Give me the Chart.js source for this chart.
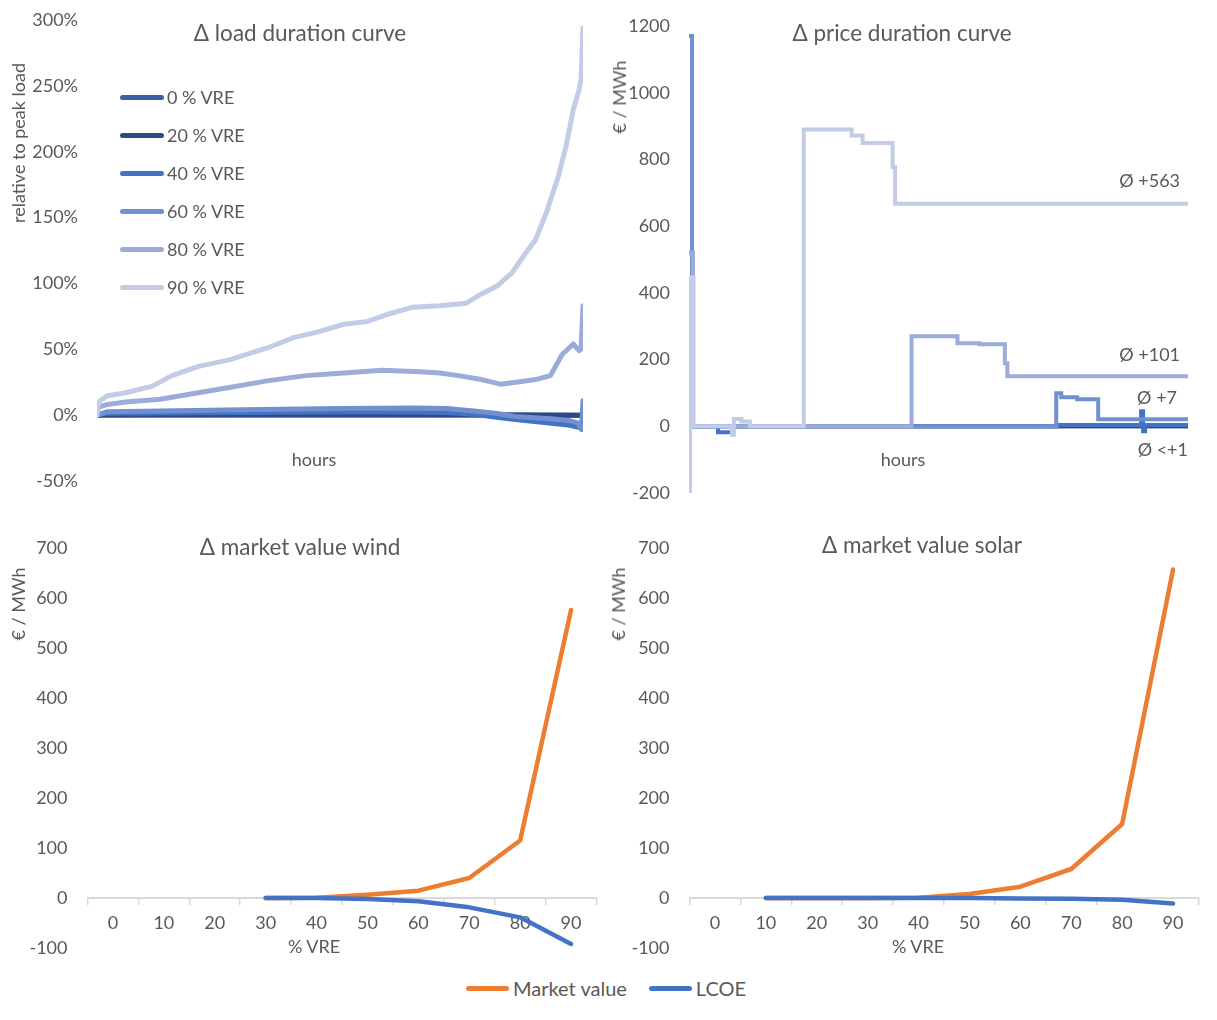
<!DOCTYPE html>
<html lang="en">
<head>
    <meta charset="UTF-8">
    <title>Δ duration curves and market values</title>
    <script src="https://cdn.jsdelivr.net/npm/chart.js"></script>
    <style>
        body { margin: 0; background: #fff; font-family: Lato, sans-serif; color: #595959; }
        #page { position: relative; width: 1217px; height: 1020px; }
        canvas { position: absolute; }
        .txt { position: absolute; white-space: nowrap; transform: translate(-50%, -50%); font-size: 18px; }
        .title { font-size: 22.5px; }
        .vert { transform: translate(-50%, -50%) rotate(-90deg); }
        .legend { position: absolute; font-size: 18px; }
        .legend .row { display: flex; align-items: center; height: 38px; }
        .legend .sw { width: 44px; height: 5px; border-radius: 3px; margin-right: 3px; }
        #mvLegend { position: absolute; left: 466px; top: 975px; display: flex; align-items: center; font-size: 20px; height: 26px; }
        #mvLegend .sw { width: 43px; height: 5px; border-radius: 3px; margin-right: 4px; }
        #mvLegend .item { display: flex; align-items: center; margin-right: 22px; }
    </style>
</head>
<body>
<div id="page">
    <canvas id="ldc" width="600" height="500" style="left:0;top:0"></canvas>
    <canvas id="pdc" width="617" height="510" style="left:600px;top:0"></canvas>
    <canvas id="wind" width="610" height="440" style="left:0;top:520px"></canvas>
    <canvas id="solar" width="617" height="440" style="left:600px;top:520px"></canvas>

    <div class="txt title" style="left:300px;top:32px">Δ load duration curve</div>
    <div class="txt title" style="left:902px;top:32px">Δ price duration curve</div>
    <div class="txt title" style="left:300px;top:546px">Δ market value wind</div>
    <div class="txt title" style="left:922px;top:544px">Δ market value solar</div>

    <div class="txt vert" style="left:18px;top:143px">relative to peak load</div>
    <div class="txt vert" style="left:619px;top:97px">€ / MWh</div>
    <div class="txt vert" style="left:18px;top:604px">€ / MWh</div>
    <div class="txt vert" style="left:618px;top:604px">€ / MWh</div>

    <div class="txt" style="left:314px;top:459px">hours</div>
    <div class="txt" style="left:903px;top:459px">hours</div>
    <div class="txt" style="left:314px;top:946px">% VRE</div>
    <div class="txt" style="left:918px;top:946px">% VRE</div>

    <div class="legend" id="ldcLegend" style="left:120px;top:78px"></div>
    <div id="mvLegend"></div>
</div>

<script>
    // scenarios (share of variable renewables)
    const vreNames = ['0 % VRE', '20 % VRE', '40 % VRE', '60 % VRE', '80 % VRE', '90 % VRE'];

    // Δ load duration curve, x = share of hours (%), y = % of peak load
    const ldc0X = [0, 100];
    const ldc0Y = [0, 0];
    const ldc20X = [0, 2, 40, 75, 90, 100];
    const ldc20Y = [0, 0.3, 0.6, 0.5, 0.2, 0];
    const ldc40X = [0, 2, 30, 55, 72, 78, 83, 88, 93, 97, 100];
    const ldc40Y = [0, 1.5, 2, 2.5, 2, 0.5, -2, -4, -6, -7.5, -10];
    const ldc60X = [0, 2, 10, 30, 50, 65, 72, 78, 82, 86, 90, 94, 97, 99, 99.7, 100];
    const ldc60Y = [0, 2.5, 3, 4, 5, 5.5, 5, 3, 1.5, -1, -2, -3, -4, -6, -11, 11];
    const ldc80X = [0, 0.3, 2, 5.9, 13, 19.3, 27.2, 35, 42.9, 50.8, 58.7, 66.5, 70.5, 74.4, 79.1, 83, 86.2, 90.2, 93.3, 95.7, 98, 99.2, 99.6, 100];
    const ldc80Y = [0, 6, 8, 10, 12, 16, 21, 26, 30, 32, 34, 33, 32, 30, 27, 23.5, 25, 27, 30, 46, 54, 49, 50, 83];
    const ldc90X = [0, 0.3, 2, 5.9, 11.4, 15.4, 20.9, 27.2, 35, 40.6, 45.3, 50.8, 55.5, 60.2, 65, 70.5, 76, 79.1, 82.3, 85.4, 87.8, 90.2, 92.5, 94.9, 96.5, 98, 99.2, 99.6, 100];
    const ldc90Y = [0, 10, 14.6, 17, 22, 30, 37, 42, 51, 59, 63, 69, 71, 77, 82, 83, 85, 92, 98, 108, 121, 133, 154, 181, 204, 232, 247, 255, 294];

    // Δ price duration curve (steps), x = share of hours (%), y = €/MWh
    const pdc0X = [0, 100];
    const pdc0Y = [0, 0];
    const pdc20X = [0, 100];
    const pdc20Y = [0, 0];
    const pdc40X = [0, 5.8, 8.8, 73.8, 90.6, 91.0, 91.4, 100];
    const pdc40Y = [0, -18, 0, 4, 45, -15, 4, 4];
    const pdc60X = [0, 0.6, 73.6, 74.6, 77.8, 82, 100];
    const pdc60Y = [1170, 0, 99, 87, 81, 21, 21];
    const pdc80X = [0, 0.8, 44.6, 53.8, 58.2, 63.3, 63.8, 100];
    const pdc80Y = [520, 0, 270, 249, 246, 189, 150, 150];
    const pdc90X = [0, 0.2, 0.9, 8.6, 9.0, 10.5, 12.2, 23, 32.6, 34.8, 40.8, 41.3, 100];
    const pdc90Y = [-200, 447, 0, -25, 22, 14, 0, 890, 872, 849, 777, 667, 667];

    // average price change labels
    const avgLabels = ['Ø +563', 'Ø +101', 'Ø +7', 'Ø <+1'];
    const avgLabelX = [98.4, 98.4, 97.8, 100];
    const avgLabelY = [734, 213, 84, -72];

    // Δ market values
    const vreShares = ['0', '10', '20', '30', '40', '50', '60', '70', '80', '90'];
    const windMarketValue = [null, null, null, 0, 0.5, 6.7, 14.7, 40, 115, 576];
    const windLcoe = [null, null, null, 0, 0, -2, -6.7, -18.7, -38.7, -92];
    const solarMarketValue = [null, 0, 0, 0, 0.5, 8, 22.7, 58, 148, 657];
    const solarLcoe = [null, 0, 0, 0, 0, 0, -1, -1.5, -3.5, -11];
    const mvNames = ['Market value', 'LCOE'];

    const vreColors = ['#3b5ea7', '#2e4a82', '#4472c4', '#7090cf', '#9cacd9', '#c3cce6'];
    const mvColors = ['#ed7d31', '#4472c4'];
    const textColor = '#595959';

    Chart.defaults.font.family = 'Lato, sans-serif';
    Chart.defaults.font.size = 18;
    Chart.defaults.color = textColor;

    const toPoints = (xs, ys) => xs.map((x, i) => ({ x: x, y: ys[i] }));

    function lineSet(label, data, color, order, extra) {
        return Object.assign({
            label: label,
            data: data,
            borderColor: color,
            backgroundColor: color,
            borderWidth: 4.5,
            pointRadius: 0,
            borderCapStyle: 'round',
            borderJoinStyle: 'round',
            fill: false,
            order: order
        }, extra || {});
    }

    // tick gap done with an invisible tick mark so it does not eat into the plot height
    function yAxis(min, max, step, width, gap, fmt) {
        return {
            min: min, max: max,
            ticks: { stepSize: step, padding: 0, callback: fmt || (v => v) },
            grid: { display: false, drawTicks: true, tickLength: gap },
            border: { display: false },
            afterFit: s => { s.width = width; }
        };
    }

    const baseOptions = {
        animation: false,
        responsive: false,
        plugins: { legend: { display: false }, tooltip: { enabled: false } }
    };

    // load duration curve
    const ldcX = [ldc0X, ldc20X, ldc40X, ldc60X, ldc80X, ldc90X];
    const ldcY = [ldc0Y, ldc20Y, ldc40Y, ldc60Y, ldc80Y, ldc90Y];
    new Chart(document.getElementById('ldc'), {
        type: 'line',
        data: {
            datasets: vreNames.map((n, i) => lineSet(n, toPoints(ldcX[i], ldcY[i]), vreColors[i], vreNames.length - 1 - i, { borderWidth: 5 }))
        },
        options: Object.assign({}, baseOptions, {
            layout: { padding: { top: 20, bottom: 19, right: 17, left: 0 } },
            scales: {
                x: { type: 'linear', min: 0, max: 100, display: false },
                y: yAxis(-50, 300, 50, 97, 19, v => v + '%')
            }
        })
    });

    // price duration curve
    const pdcX = [pdc0X, pdc20X, pdc40X, pdc60X, pdc80X, pdc90X];
    const pdcY = [pdc0Y, pdc20Y, pdc40Y, pdc60Y, pdc80Y, pdc90Y];
    const avgLabelPlugin = {
        id: 'avgLabels',
        afterDatasetsDraw(chart) {
            const ctx = chart.ctx;
            ctx.save();
            ctx.font = '18px Lato, sans-serif';
            ctx.fillStyle = textColor;
            ctx.textAlign = 'right';
            ctx.textBaseline = 'middle';
            avgLabels.forEach((t, i) => {
                ctx.fillText(t, chart.scales.x.getPixelForValue(avgLabelX[i]), chart.scales.y.getPixelForValue(avgLabelY[i]));
            });
            ctx.restore();
        }
    };
    new Chart(document.getElementById('pdc'), {
        type: 'line',
        data: {
            datasets: vreNames.map((n, i) => lineSet(n, toPoints(pdcX[i], pdcY[i]), vreColors[i], vreNames.length - 1 - i, { stepped: true, borderWidth: 4, borderCapStyle: 'butt', borderJoinStyle: 'miter' }))
        },
        options: Object.assign({}, baseOptions, {
            layout: { padding: { top: 26, bottom: 17, right: 29, left: 0 } },
            scales: {
                x: { type: 'linear', min: 0, max: 100, display: false },
                y: yAxis(-200, 1200, 200, 89, 19)
            }
        }),
        plugins: [avgLabelPlugin]
    });

    // market value charts
    function marketChart(id, mv, lcoe, width, rightPad) {
        return new Chart(document.getElementById(id), {
            type: 'line',
            data: {
                labels: vreShares,
                datasets: [
                    lineSet(mvNames[0], mv, mvColors[0], 1),
                    lineSet(mvNames[1], lcoe, mvColors[1], 0)
                ]
            },
            options: Object.assign({}, baseOptions, {
                layout: { padding: { top: 28, bottom: 12, right: rightPad, left: 0 } },
                scales: {
                    x: {
                        type: 'category',
                        offset: true,
                        position: { y: 0 },
                        grid: { display: true, drawOnChartArea: false, drawTicks: true, tickLength: 6, color: '#d9d9d9', lineWidth: 1.5, offset: true },
                        border: { display: true, color: '#d9d9d9', width: 2 },
                        ticks: { padding: 8, maxRotation: 0, autoSkip: false }
                    },
                    y: yAxis(-100, 700, 100, width, 20)
                }
            })
        });
    }
    marketChart('wind', windMarketValue, windLcoe, 87.5, 13.5);
    marketChart('solar', solarMarketValue, solarLcoe, 89.5, 18.5);

    // legends
    const ldcLegend = document.getElementById('ldcLegend');
    vreNames.forEach((n, i) => {
        const row = document.createElement('div');
        row.className = 'row';
        row.innerHTML = '<span class="sw" style="background:' + vreColors[i] + '"></span><span>' + n + '</span>';
        ldcLegend.appendChild(row);
    });
    const mvLegend = document.getElementById('mvLegend');
    mvNames.forEach((n, i) => {
        const item = document.createElement('div');
        item.className = 'item';
        item.innerHTML = '<span class="sw" style="background:' + mvColors[i] + '"></span><span>' + n + '</span>';
        mvLegend.appendChild(item);
    });
</script>
</body>
</html>
